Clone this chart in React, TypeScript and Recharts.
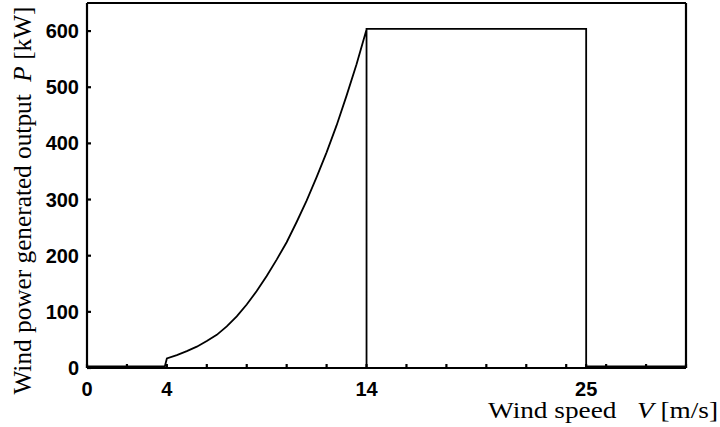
import { LineChart, Line, XAxis, YAxis, Label } from 'recharts';

// wind speed V [m/s] and generated output P [kW]
const windSpeed = [0, 3.9, 4, 4.5, 5, 5.5, 6, 6.5, 7, 7.5, 8, 8.5, 9, 9.5, 10, 10.5, 11, 11.5, 12, 12.5, 13, 13.5, 14, 14, 14, 25, 25, 30];
const power = [3, 3, 17, 23, 30, 38, 48, 59, 74, 92, 113, 137, 164, 193, 224, 260, 298, 340, 384, 432, 485, 541, 603, 0, 604, 604, 3, 3];

const xLabels = [0, 4, 14, 25];
const xMinorTicks = [0, 2, 4, 6, 8, 10, 12, 14, 16, 18, 20, 22, 24, 26, 28, 30];
const yTicks = [0, 100, 200, 300, 400, 500, 600];

const data = windSpeed.map((v, i) => ({ v, p: power[i] }));
const xTicks = Array.from(new Set([...xMinorTicks, ...xLabels])).sort((a, b) => a - b);

const tickFont = { fontFamily: '"Liberation Sans", Arial, sans-serif', fontSize: 20, fontWeight: 700, fill: '#000' };
const labelFont = { fontFamily: '"Liberation Serif", "Times New Roman", serif', fill: '#000' };

function XTick(props: any) {
  const { x, y, payload } = props;
  if (!xLabels.includes(payload.value)) return null;
  return (
    <text x={x} y={y} dy="0.71em" textAnchor="middle" {...tickFont}>
      {payload.value}
    </text>
  );
}

export default function App() {
  return (
    <div style={{ position: 'absolute', left: 0, top: 0, background: '#fff' }}>
      <LineChart width={720} height={427} data={data} margin={{ top: 2, right: 33, bottom: 0, left: 0 }}>
        <XAxis
          dataKey="v"
          type="number"
          domain={[0, 30]}
          ticks={xTicks}
          interval={0}
          height={59}
          stroke="#000"
          strokeWidth={2.2}
          tickSize={-4}
          tickMargin={18}
          tick={<XTick />}
        >
          <Label
            content={(p: any) => {
              const vb = p.viewBox;
              return (
                <text
                  x={vb.x + vb.width + 32}
                  y={vb.y + 50}
                  textAnchor="end"
                  fontSize={24}
                  textLength={230}
                  lengthAdjust="spacingAndGlyphs"
                  {...labelFont}
                >
                  Wind speed{'\u00a0\u00a0\u00a0'}
                  <tspan fontStyle="italic">V</tspan>{'\u00a0'}[m/s]
                </text>
              );
            }}
          />
        </XAxis>
        <XAxis
          xAxisId="top"
          orientation="top"
          dataKey="v"
          type="number"
          domain={[0, 30]}
          ticks={xMinorTicks}
          interval={0}
          height={1}
          stroke="#000"
          strokeWidth={2.2}
          tickSize={-4}
          tick={false}
        />
        <YAxis
          type="number"
          domain={[0, 650]}
          ticks={yTicks}
          interval={0}
          width={87}
          stroke="#000"
          strokeWidth={2.2}
          tickSize={-4}
          tickMargin={12}
          tick={tickFont}
        >
          <Label
            content={(p: any) => {
              const vb = p.viewBox;
              const cx = 22;
              const cy = vb.y + vb.height / 2 + 15;
              return (
                <text
                  x={cx}
                  y={cy}
                  textAnchor="middle"
                  dominantBaseline="central"
                  transform={`rotate(-90 ${cx} ${cy})`}
                  fontSize={25}
                  textLength={388}
                  lengthAdjust="spacingAndGlyphs"
                  {...labelFont}
                >
                  Wind power generated output{'\u00a0\u00a0'}
                  <tspan fontStyle="italic">P</tspan>{'\u00a0'}[kW]
                </text>
              );
            }}
          />
        </YAxis>
        <YAxis
          yAxisId="right"
          orientation="right"
          type="number"
          domain={[0, 650]}
          ticks={yTicks}
          interval={0}
          width={1}
          stroke="#000"
          strokeWidth={2.2}
          tickSize={-4}
          tick={false}
        />
        <Line dataKey="p" type="linear" stroke="#000" strokeWidth={1.8} dot={false} isAnimationActive={false} />
      </LineChart>
    </div>
  );
}
